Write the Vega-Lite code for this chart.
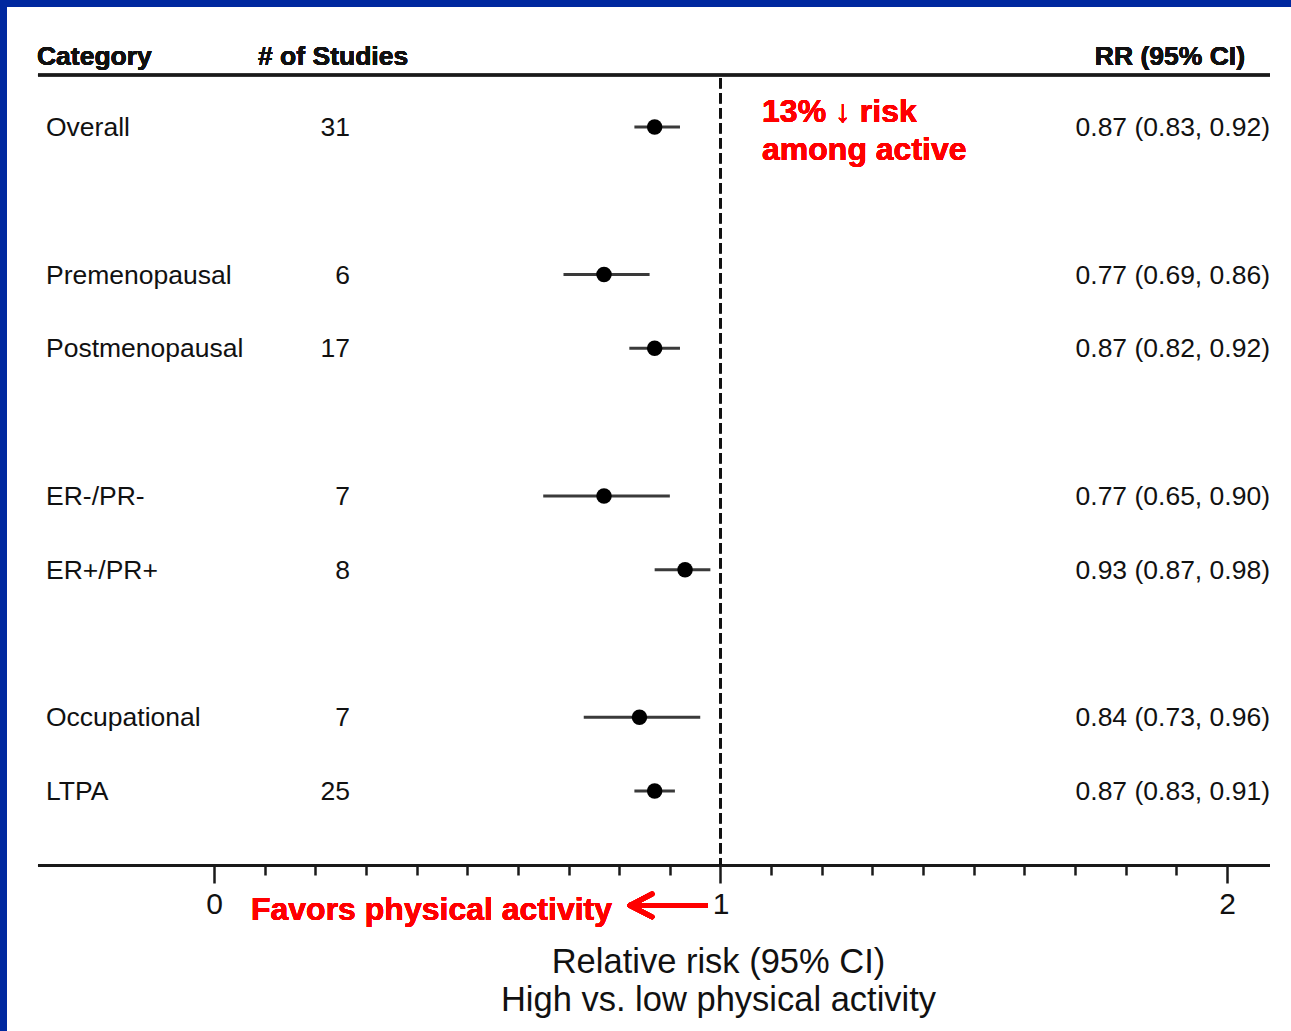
{
  "$schema": "https://vega.github.io/schema/vega-lite/v6.json",
  "width": 1284,
  "height": 1024,
  "autosize": "none",
  "padding": {"left": 7, "top": 7, "right": 0, "bottom": 0},
  "background": "#00289F",
  "config": {
    "view": {"fill": "#ffffff", "stroke": null},
    "text": {"font": "Liberation Sans", "color": "#111111"}
  },
  "resolve": {"axis": {"x": "independent"}},
  "data": {
    "values": [
      {"row": 0, "category": "Overall", "studies": "31", "rr": 0.87, "lo": 0.83, "hi": 0.92, "label": "0.87 (0.83, 0.92)"},
      {"row": 2, "category": "Premenopausal", "studies": "6", "rr": 0.77, "lo": 0.69, "hi": 0.86, "label": "0.77 (0.69, 0.86)"},
      {"row": 3, "category": "Postmenopausal", "studies": "17", "rr": 0.87, "lo": 0.82, "hi": 0.92, "label": "0.87 (0.82, 0.92)"},
      {"row": 5, "category": "ER-/PR-", "studies": "7", "rr": 0.77, "lo": 0.65, "hi": 0.90, "label": "0.77 (0.65, 0.90)"},
      {"row": 6, "category": "ER+/PR+", "studies": "8", "rr": 0.93, "lo": 0.87, "hi": 0.98, "label": "0.93 (0.87, 0.98)"},
      {"row": 8, "category": "Occupational", "studies": "7", "rr": 0.84, "lo": 0.73, "hi": 0.96, "label": "0.84 (0.73, 0.96)"},
      {"row": 9, "category": "LTPA", "studies": "25", "rr": 0.87, "lo": 0.83, "hi": 0.91, "label": "0.87 (0.83, 0.91)"}
    ]
  },
  "layer": [
    {
      "mark": {"type": "rule", "color": "#1a1a1a", "strokeWidth": 2.5},
      "encoding": {
        "x": {"datum": -0.3475, "type": "quantitative", "axis": null},
        "x2": {"datum": 2.0849},
        "y": {"datum": -0.7048, "type": "quantitative", "axis": null}
      }
    },
    {
      "mark": {"type": "rule", "color": "#1a1a1a", "strokeWidth": 2.5},
      "encoding": {
        "x": {"datum": -0.3475, "type": "quantitative", "axis": null},
        "x2": {"datum": 2.0849},
        "y": {"datum": 10.009, "type": "quantitative", "axis": null}
      }
    },
    {
      "mark": {"type": "rule", "color": "#111111", "strokeWidth": 2.5, "strokeDash": [10, 5]},
      "encoding": {
        "x": {"datum": 1, "type": "quantitative", "axis": null},
        "y": {"datum": -0.66, "type": "quantitative", "axis": null},
        "y2": {"datum": 10.0}
      }
    },
    {
      "mark": {"type": "rule", "color": "#3a3a3a", "strokeWidth": 3},
      "encoding": {
        "x": {
          "field": "lo",
          "type": "quantitative",
          "scale": {"domain": [-0.40869, 2.12636], "nice": false, "zero": false},
          "axis": {
            "orient": "bottom",
            "values": [0.1, 0.2, 0.3, 0.4, 0.5, 0.6, 0.7, 0.8, 0.9, 1.1, 1.2, 1.3, 1.4, 1.5, 1.6, 1.7, 1.8, 1.9],
            "domain": false,
            "grid": false,
            "labels": false,
            "title": null,
            "offset": -165,
            "tickColor": "#1a1a1a",
            "tickWidth": 2.5,
            "tickSize": 9
          }
        },
        "x2": {"field": "hi"},
        "y": {"field": "row", "type": "quantitative", "axis": null, "scale": {"domain": [-1.62646, 12.2526], "reverse": true, "nice": false, "zero": false}}
      }
    },
    {
      "mark": {"type": "point", "shape": "circle", "filled": true, "color": "#000000", "opacity": 1, "size": 240},
      "encoding": {
        "x": {
          "field": "rr",
          "type": "quantitative",
          "scale": {"domain": [-0.40869, 2.12636], "nice": false, "zero": false},
          "axis": {
            "orient": "bottom",
            "values": [0, 1, 2],
            "format": "d",
            "domain": false,
            "grid": false,
            "offset": -165,
            "tickColor": "#1a1a1a",
            "tickWidth": 2.5,
            "tickSize": 17,
            "labelFont": "Liberation Sans",
            "labelFontSize": 30,
            "labelColor": "#111111",
            "labelPadding": 6,
            "labelOverlap": false,
            "labelFlush": false,
            "labelBound": false,
            "title": ["Relative risk (95% CI)", "High vs. low physical activity"],
            "titleFont": "Liberation Sans",
            "titleFontSize": 34.5,
            "titleFontWeight": "normal",
            "titleColor": "#111111",
            "titleLineHeight": 38,
            "titleX": 711,
            "titleY": 106,
            "titleAlign": "center",
            "titleBaseline": "alphabetic"
          }
        },
        "y": {"field": "row", "type": "quantitative", "axis": null, "scale": {"domain": [-1.62646, 12.2526], "reverse": true, "nice": false, "zero": false}}
      }
    },
    {
      "mark": {"type": "text", "align": "left", "baseline": "middle", "dy": 1, "fontSize": 26.5},
      "encoding": {
        "x": {"datum": -0.33169, "type": "quantitative", "axis": null},
        "y": {"field": "row", "type": "quantitative", "axis": null},
        "text": {"field": "category"}
      }
    },
    {
      "mark": {"type": "text", "align": "right", "baseline": "middle", "dy": 1, "fontSize": 26.5},
      "encoding": {
        "x": {"datum": 0.26851, "type": "quantitative", "axis": null},
        "y": {"field": "row", "type": "quantitative", "axis": null},
        "text": {"field": "studies"}
      }
    },
    {
      "mark": {"type": "text", "align": "right", "baseline": "middle", "dy": 1, "fontSize": 26.5},
      "encoding": {
        "x": {"datum": 2.0849, "type": "quantitative", "axis": null},
        "y": {"field": "row", "type": "quantitative", "axis": null},
        "text": {"field": "label"}
      }
    },
    {
      "mark": {"type": "text", "align": "left", "baseline": "alphabetic", "fontSize": 26.5, "fontWeight": "bold"},
      "encoding": {
        "x": {"datum": -0.3495, "type": "quantitative", "axis": null},
        "y": {"datum": -0.8403, "type": "quantitative", "axis": null},
        "text": {"value": "Category"}
      }
    },
    {
      "mark": {"type": "text", "align": "left", "baseline": "alphabetic", "fontSize": 26.5, "fontWeight": "bold"},
      "encoding": {
        "x": {"datum": 0.0869, "type": "quantitative", "axis": null},
        "y": {"datum": -0.8403, "type": "quantitative", "axis": null},
        "text": {"value": "# of Studies"}
      }
    },
    {
      "mark": {"type": "text", "align": "right", "baseline": "alphabetic", "fontSize": 26.5, "fontWeight": "bold"},
      "encoding": {
        "x": {"datum": 2.0355, "type": "quantitative", "axis": null},
        "y": {"datum": -0.8403, "type": "quantitative", "axis": null},
        "text": {"value": "RR (95% CI)"}
      }
    },
    {
      "mark": {"type": "text", "align": "left", "baseline": "alphabetic", "fontSize": 32, "fontWeight": "bold", "color": "#FF0000", "lineHeight": 38},
      "encoding": {
        "x": {"datum": 1.082, "type": "quantitative", "axis": null},
        "y": {"datum": -0.0678, "type": "quantitative", "axis": null},
        "text": {"value": ["13% ↓ risk", "among active"]}
      }
    },
    {
      "mark": {"type": "text", "align": "left", "baseline": "alphabetic", "fontSize": 32, "fontWeight": "bold", "color": "#FF0000"},
      "encoding": {
        "x": {"datum": 0.073, "type": "quantitative", "axis": null},
        "y": {"datum": 10.748, "type": "quantitative", "axis": null},
        "text": {"value": "Favors physical activity"}
      }
    },
    {
      "mark": {"type": "rule", "color": "#FF0000", "strokeWidth": 5},
      "encoding": {
        "x": {"datum": 0.826, "type": "quantitative", "axis": null},
        "x2": {"datum": 0.9753},
        "y": {"datum": 10.551, "type": "quantitative", "axis": null}
      }
    },
    {
      "mark": {"type": "rule", "color": "#FF0000", "strokeWidth": 5, "strokeCap": "round"},
      "encoding": {
        "x": {"datum": 0.8213, "type": "quantitative", "axis": null},
        "x2": {"datum": 0.8648},
        "y": {"datum": 10.551, "type": "quantitative", "axis": null},
        "y2": {"datum": 10.396}
      }
    },
    {
      "mark": {"type": "rule", "color": "#FF0000", "strokeWidth": 5, "strokeCap": "round"},
      "encoding": {
        "x": {"datum": 0.8213, "type": "quantitative", "axis": null},
        "x2": {"datum": 0.8648},
        "y": {"datum": 10.551, "type": "quantitative", "axis": null},
        "y2": {"datum": 10.706}
      }
    }
  ]
}
